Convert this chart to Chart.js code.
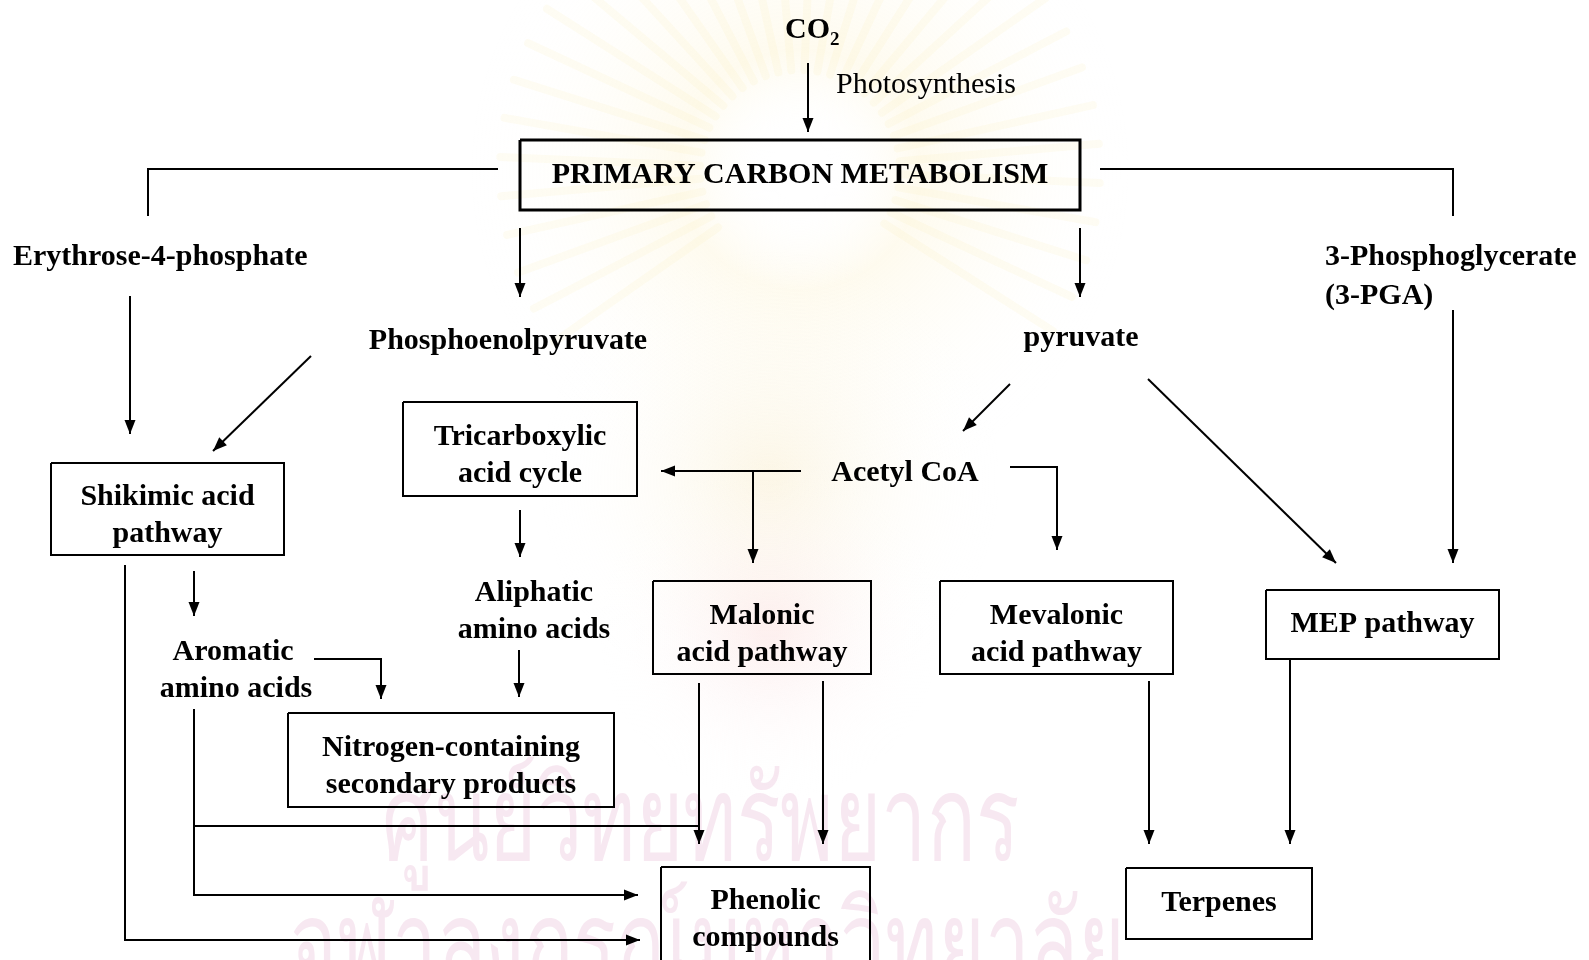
<!DOCTYPE html>
<html>
<head>
<meta charset="utf-8">
<script src="https://cdn.jsdelivr.net/npm/chart.js@4.4.1/dist/chart.umd.min.js"></script>
<style>
  html, body { margin: 0; padding: 0; background: #fff; }
  #wrap { width: 1589px; height: 960px; position: relative; }
</style>
</head>
<body>
<div id="wrap"><canvas id="flow" width="1589" height="960"></canvas></div>
<script>
// boxes: label lines + corners (diagram units = pixels of the page)
const boxes = [
  { lines: ['PRIMARY CARBON METABOLISM'], x0: 520, y0: 140, x1: 1080, y1: 210, lw: 3 },
  { lines: ['Shikimic acid', 'pathway'], x0: 51, y0: 463, x1: 284, y1: 555 },
  { lines: ['Tricarboxylic', 'acid cycle'], x0: 403, y0: 402, x1: 637, y1: 496 },
  { lines: ['Malonic', 'acid pathway'], x0: 653, y0: 581, x1: 871, y1: 674 },
  { lines: ['Mevalonic', 'acid pathway'], x0: 940, y0: 581, x1: 1173, y1: 674 },
  { lines: ['MEP pathway'], x0: 1266, y0: 590, x1: 1499, y1: 659 },
  { lines: ['Nitrogen-containing', 'secondary products'], x0: 288, y0: 713, x1: 614, y1: 807 },
  { lines: ['Phenolic', 'compounds'], x0: 661, y0: 867, x1: 870, y1: 968, ty: 920 },
  { lines: ['Terpenes'], x0: 1126, y0: 868, x1: 1312, y1: 939 },
];

// free text labels (metabolites)
const labels = [
  { text: 'Erythrose-4-phosphate', x: 13, y: 257, align: 'left' },
  { text: '3-Phosphoglycerate', x: 1325, y: 257, align: 'left' },
  { text: '(3-PGA)', x: 1325, y: 296, align: 'left' },
  { text: 'Phosphoenolpyruvate', x: 508, y: 341, align: 'center' },
  { text: 'pyruvate', x: 1081, y: 338, align: 'center' },
  { text: 'Acetyl CoA', x: 905, y: 473, align: 'center' },
  { text: 'Aliphatic', x: 534, y: 593, align: 'center' },
  { text: 'amino acids', x: 534, y: 630, align: 'center' },
  { text: 'Aromatic', x: 233, y: 652, align: 'center' },
  { text: 'amino acids', x: 236, y: 689, align: 'center' },
  { text: 'Photosynthesis', x: 836, y: 85, align: 'left', normal: true },
];

// connectors: polyline points, arrow at last point or not
const connectors = [
  { pts: [[808, 63], [808, 132]], arrow: true },
  { pts: [[498, 169], [148, 169], [148, 216]], arrow: false },
  { pts: [[1100, 169], [1453, 169], [1453, 216]], arrow: false },
  { pts: [[520, 228], [520, 297]], arrow: true },
  { pts: [[1080, 228], [1080, 297]], arrow: true },
  { pts: [[130, 296], [130, 434]], arrow: true },
  { pts: [[311, 356], [213, 451]], arrow: true },
  { pts: [[1453, 310], [1453, 563]], arrow: true },
  { pts: [[1010, 384], [963, 431]], arrow: true },
  { pts: [[1148, 379], [1336, 563]], arrow: true },
  { pts: [[801, 471], [661, 471]], arrow: true },
  { pts: [[753, 471], [753, 563]], arrow: true },
  { pts: [[1010, 467], [1057, 467], [1057, 550]], arrow: true },
  { pts: [[520, 510], [520, 557]], arrow: true },
  { pts: [[194, 571], [194, 616]], arrow: true },
  { pts: [[314, 659], [381, 659], [381, 699]], arrow: true },
  { pts: [[519, 650], [519, 697]], arrow: true },
  { pts: [[125, 565], [125, 940], [640, 940]], arrow: true },
  { pts: [[194, 709], [194, 895], [638, 895]], arrow: true },
  { pts: [[194, 826], [699, 826]], arrow: false },
  { pts: [[699, 683], [699, 844]], arrow: true },
  { pts: [[823, 681], [823, 844]], arrow: true },
  { pts: [[1149, 681], [1149, 844]], arrow: true },
  { pts: [[1290, 660], [1290, 844]], arrow: true },
];

// background watermark lines: text, left, right, baseline
const stampText = [
  { text: 'ศูนย์วิทยทรัพยากร', x0: 382, x1: 1019, y: 860 },
  { text: 'จุฬาลงกรณ์มหาวิทยาลัย', x0: 290, x1: 1125, y: 985 },
];

const FONT = '"Liberation Serif", "Times New Roman", serif';

const datasets = [];
boxes.forEach(b => {
  datasets.push({
    data: [
      { x: b.x0, y: b.y0 }, { x: b.x1, y: b.y0 }, { x: b.x1, y: b.y1 },
      { x: b.x0, y: b.y1 }, { x: b.x0, y: b.y0 },
    ],
    borderWidth: b.lw || 2,
    borderJoinStyle: 'miter',
  });
});
connectors.forEach(c => {
  datasets.push({
    data: c.pts.map(p => ({ x: p[0], y: p[1] })),
    borderWidth: 2,
    borderJoinStyle: 'miter',
    arrow: c.arrow,
  });
});
datasets.forEach(d => {
  d.showLine = true;
  d.borderColor = '#000';
  d.pointRadius = 0;
  d.pointHoverRadius = 0;
  d.fill = false;
  d.tension = 0;
  d.borderCapStyle = 'butt';
});

// faint watermark behind the diagram
const watermark = {
  id: 'watermark',
  beforeDatasetsDraw(chart) {
    const { ctx, scales: { x, y } } = chart;
    const px = v => x.getPixelForValue(v), py = v => y.getPixelForValue(v);
    ctx.save();
    // sun rays
    const sx = px(800), sy = py(170);
    ctx.strokeStyle = 'rgba(250,228,160,0.12)';
    ctx.lineWidth = 8;
    ctx.lineCap = 'round';
    for (let a = -215; a <= 35; a += 7.5) {
      const r = a * Math.PI / 180;
      ctx.beginPath();
      ctx.moveTo(sx + 100 * Math.cos(r), sy + 100 * Math.sin(r));
      ctx.lineTo(sx + 300 * Math.cos(r), sy + 300 * Math.sin(r));
      ctx.stroke();
    }
    let g = ctx.createRadialGradient(sx, sy, 30, sx, sy, 330);
    g.addColorStop(0, 'rgba(255,255,255,0)');
    g.addColorStop(0.3, 'rgba(252,236,180,0.22)');
    g.addColorStop(1, 'rgba(255,255,255,0)');
    ctx.fillStyle = g;
    ctx.fillRect(0, 0, chart.width, chart.height);
    // urn body
    g = ctx.createRadialGradient(px(770), py(480), 10, px(770), py(480), 230);
    g.addColorStop(0, 'rgba(245,225,170,0.28)');
    g.addColorStop(1, 'rgba(255,255,255,0)');
    ctx.fillStyle = g;
    ctx.fillRect(0, 0, chart.width, chart.height);
    g = ctx.createRadialGradient(px(770), py(630), 10, px(770), py(630), 170);
    g.addColorStop(0, 'rgba(250,215,215,0.35)');
    g.addColorStop(1, 'rgba(255,255,255,0)');
    ctx.fillStyle = g;
    ctx.fillRect(0, 0, chart.width, chart.height);
    // Thai text
    ctx.fillStyle = 'rgba(230,185,210,0.32)';
    ctx.textAlign = 'left';
    ctx.textBaseline = 'alphabetic';
    ctx.font = '118px sans-serif';
    stampText.forEach(s => {
      const w = ctx.measureText(s.text).width;
      const k = (px(s.x1) - px(s.x0)) / w;
      ctx.save();
      ctx.translate(px(s.x0), py(s.y));
      ctx.scale(k, 1);
      ctx.fillText(s.text, 0, 0);
      ctx.restore();
    });
    ctx.restore();
  },
};

// arrowheads, box texts and free labels
const annotate = {
  id: 'annotate',
  afterDatasetsDraw(chart) {
    const { ctx, scales: { x, y } } = chart;
    ctx.save();
    ctx.fillStyle = '#000';
    chart.data.datasets.forEach((ds, i) => {
      if (!ds.arrow) return;
      const pts = chart.getDatasetMeta(i).data;
      const a = pts[pts.length - 2], b = pts[pts.length - 1];
      const ang = Math.atan2(b.y - a.y, b.x - a.x);
      const len = 14, half = 5.5;
      ctx.beginPath();
      ctx.moveTo(b.x, b.y);
      ctx.lineTo(b.x - len * Math.cos(ang) + half * Math.sin(ang), b.y - len * Math.sin(ang) - half * Math.cos(ang));
      ctx.lineTo(b.x - len * Math.cos(ang) - half * Math.sin(ang), b.y - len * Math.sin(ang) + half * Math.cos(ang));
      ctx.closePath();
      ctx.fill();
    });

    ctx.textBaseline = 'middle';
    ctx.textAlign = 'center';
    ctx.font = 'bold 30px ' + FONT;
    boxes.forEach(b => {
      const n = b.lines.length;
      const cx = x.getPixelForValue((b.x0 + b.x1) / 2);
      const cy = y.getPixelForValue(b.ty || (b.y0 + b.y1) / 2 + (n > 1 ? 7 : 0));
      b.lines.forEach((t, k) => ctx.fillText(t, cx, cy + (k - (n - 1) / 2) * 37));
    });

    labels.forEach(l => {
      ctx.font = (l.normal ? '' : 'bold ') + '30px ' + FONT;
      ctx.textAlign = l.align;
      ctx.fillText(l.text, x.getPixelForValue(l.x), y.getPixelForValue(l.y));
    });

    // CO2 with subscript
    ctx.textAlign = 'left';
    ctx.font = 'bold 30px ' + FONT;
    const cx = x.getPixelForValue(785), cy = y.getPixelForValue(30);
    ctx.fillText('CO', cx, cy);
    const w = ctx.measureText('CO').width;
    ctx.font = 'bold 19px ' + FONT;
    ctx.fillText('2', cx + w, cy + 10);
    ctx.restore();
  },
};

new Chart(document.getElementById('flow'), {
  type: 'scatter',
  data: { datasets },
  options: {
    responsive: false,
    animation: false,
    events: [],
    layout: { padding: 0 },
    plugins: { legend: { display: false }, tooltip: { enabled: false } },
    scales: {
      x: { type: 'linear', min: 0, max: 1589, display: false },
      y: { type: 'linear', min: 0, max: 960, reverse: true, display: false },
    },
  },
  plugins: [watermark, annotate],
});
</script>
</body>
</html>
